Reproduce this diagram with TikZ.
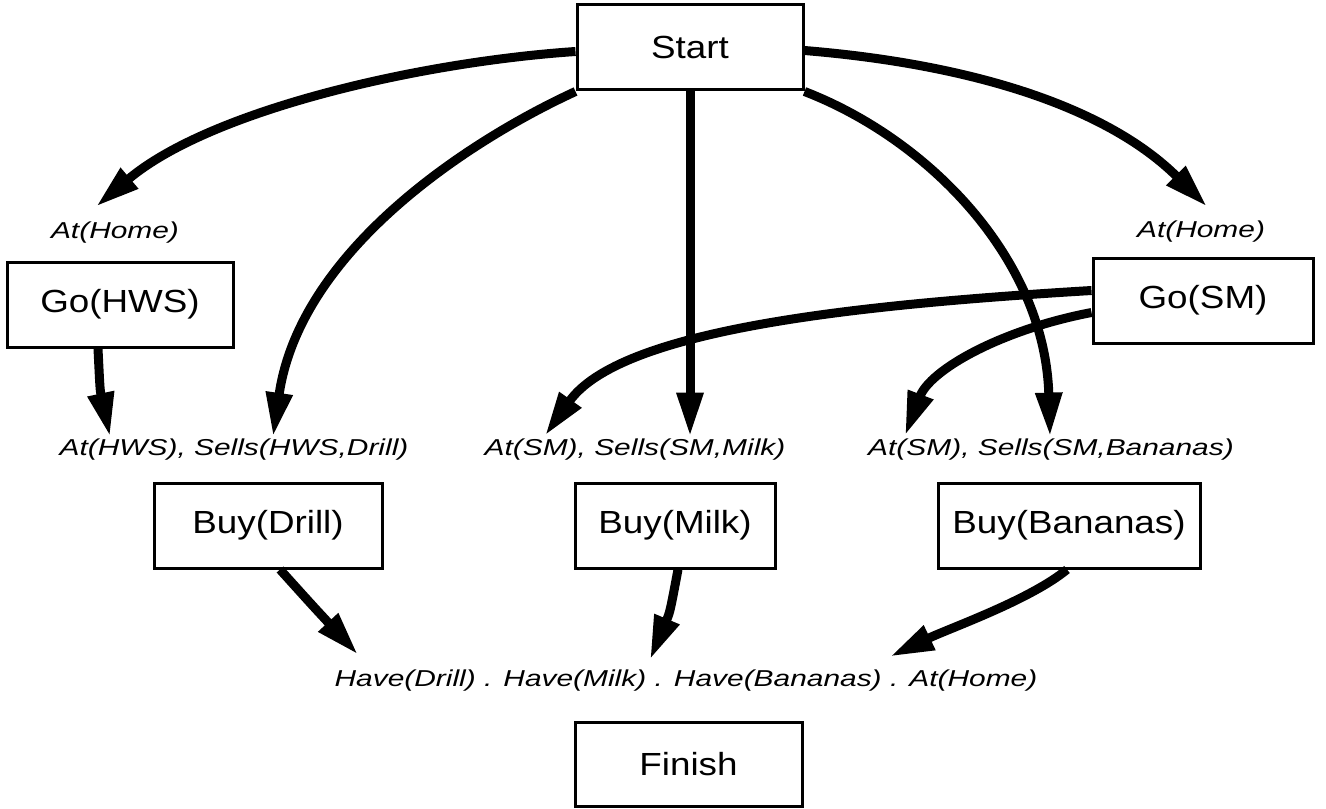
\documentclass[tikz,border=0pt]{standalone}
\usepackage{fontspec}
\setmainfont{Liberation Sans}
\newfontfamily\boxfont[FakeStretch=1.15]{Liberation Sans}
\newfontfamily\condfont[FakeStretch=1.3]{Liberation Sans}
\usetikzlibrary{arrows.meta,calc}
\begin{document}
\begin{tikzpicture}[x=0.5pt,y=-0.5pt,
  action/.style={draw,line width=1.5pt,inner sep=0pt,font=\boxfont\fontsize{16}{18}\selectfont},
  cond/.style={inner sep=0pt,text height=8pt,text depth=2pt,font=\condfont\itshape\fontsize{11.5}{13}\selectfont},
  link/.style={line width=4.5pt,-{Triangle[length=22pt,width=12.5pt]}}]
\useasboundingbox (0,0) rectangle (1326,808);

% plan steps
\node[action,minimum width=113pt,minimum height=42.5pt] (start)    at (690,47.5)  {Start};
\node[action,minimum width=113pt,minimum height=42.5pt] (gohws)    at (120,304.5) {Go(HWS)};
\node[action,minimum width=110pt,minimum height=42.5pt] (gosm)     at (1203,300.5){Go(SM)};
\node[action,minimum width=114pt,minimum height=42.5pt] (buydrill) at (268,525.5) {Buy(Drill)};
\node[action,minimum width=100pt,minimum height=42.5pt] (buymilk)  at (675,525.5) {Buy(Milk)};
\node[action,minimum width=131pt,minimum height=42.5pt] (buyban)   at (1069,525.5){Buy(Bananas)};
\node[action,minimum width=113.5pt,minimum height=42pt] (finish)   at (688.5,764) {Finish};

% preconditions
\node[cond] (homeL) at (115,232)  {At(Home)};
\node[cond] (homeR) at (1201,231) {At(Home)};
\node[cond] (pdrill) at (234,449) {At(HWS), Sells(HWS,Drill)};
\node[cond] (pmilk)  at (635,449) {At(SM), Sells(SM,Milk)};
\node[cond] (pban)   at (1051,449){At(SM), Sells(SM,Bananas)};
\node[cond] (pfin)   at (686,680) {Have(Drill) . Have(Milk) . Have(Bananas) . At(Home)};

% causal links from Start
\draw[link] ($(start.west)+(0,4)$) .. controls (420,62) and (210,110) .. ($(homeL.north)+(-19,-15)$);
\draw[link] (start.south west) .. controls (470,140) and (300,250) .. ($(pdrill.north)+(39,-2)$);
\draw[link] (start.south) -- ($(start.south |- pmilk.north)+(0,-2)$);
\draw[link] (start.south east) .. controls (930,140) and (1045,260) .. ($(pban.north)+(-1,-2)$);
\draw[link] ($(start.east)+(0,3)$) .. controls (980,65) and (1110,110) .. ($(homeR.north)+(6,-14)$);

% links from the Go steps
\draw[link] ($(gohws.south)+(-22,0)$) .. controls (100,390) .. ($(pdrill.north)+(-124,-2)$);
\draw[link] ($(gosm.west)+(0,-10)$) .. controls (850,305) and (620,330) .. ($(pmilk.north)+(-90,-3)$);
\draw[link] ($(gosm.west)+(0,12)$) .. controls (1000,330) and (930,370) .. ($(pban.north)+(-146,-3)$);

% links into Finish
\draw[link] ($(buydrill.south)+(12,0)$) .. controls (312,605) .. ($(pfin.north)+(-328,-15)$);
\draw[link] ($(buymilk.south)+(3,0)$) .. controls (670,612) .. ($(pfin.north)+(-36,-10)$);
\draw[link] ($(buyban.south)+(-2,0)$) .. controls (1030,600) and (950,628) .. ($(pfin.north)+(204,-13)$);
\end{tikzpicture}
\end{document}
